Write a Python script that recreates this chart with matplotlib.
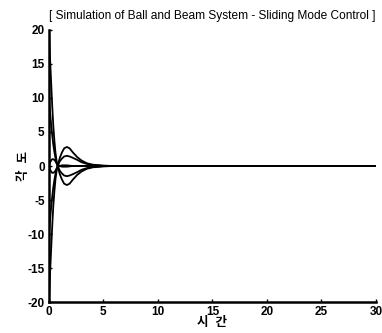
import matplotlib
matplotlib.use("Agg")
import matplotlib.pyplot as plt

plt.rcParams['font.family'] = ['Liberation Sans', 'Noto Sans CJK KR', 'DejaVu Sans']
plt.rcParams['axes.unicode_minus'] = False

title = "[ Simulation of Ball and Beam System - Sliding Mode Control ]"
xlabel = "시  간"
ylabel = "각  도"
xticks = [0, 5, 10, 15, 20, 25, 30]
yticks = [-20, -15, -10, -5, 0, 5, 10, 15, 20]

# time samples (shared by all curves)
t = [0.0, 0.1, 0.2, 0.3, 0.4, 0.5, 0.6, 0.7, 0.8, 1.0, 1.2, 1.4, 1.65,
     1.9, 2.2, 2.6, 3.0, 3.5, 4.0, 5.0, 6.0, 30.0]

# curve starting at +20, overshooting to about -2.8
y_p20 = [20.0, 16.0, 12.5, 9.0, 6.0, 3.8, 2.0, 0.8, 0.0, -1.2, -2.0, -2.6, -2.8,
         -2.6, -2.0, -1.3, -0.8, -0.4, -0.2, -0.05, 0.0, 0.0]
# curve starting at +10, overshooting to about -1.5
y_p10 = [10.0, 8.0, 6.2, 4.6, 3.2, 2.1, 1.2, 0.5, 0.0, -0.7, -1.1, -1.4, -1.5,
         -1.4, -1.2, -0.9, -0.55, -0.3, -0.15, -0.03, 0.0, 0.0]
# curve starting at -10
y_m10 = [-10.0, -8.0, -6.2, -4.6, -3.2, -2.1, -1.2, -0.5, 0.0, 0.7, 1.1, 1.4, 1.5,
         1.4, 1.2, 0.9, 0.55, 0.3, 0.15, 0.03, 0.0, 0.0]
# curve starting at -20
y_m20 = [-20.0, -16.0, -12.5, -9.0, -6.0, -3.8, -2.0, -0.8, 0.0, 1.2, 2.0, 2.6, 2.8,
         2.6, 2.0, 1.3, 0.8, 0.4, 0.2, 0.05, 0.0, 0.0]
# small curves forming the loop near zero
y_loop_up = [0.0, 0.5, 0.8, 1.0, 1.0, 0.9, 0.7, 0.4, 0.2, 0.0, -0.1, -0.1, -0.1,
             -0.05, 0.0, 0.0, 0.0, 0.0, 0.0, 0.0, 0.0, 0.0]
y_loop_dn = [0.0, -0.5, -0.8, -1.0, -1.0, -0.9, -0.7, -0.4, -0.2, 0.0, 0.1, 0.1, 0.1,
             0.05, 0.0, 0.0, 0.0, 0.0, 0.0, 0.0, 0.0, 0.0]

series = [y_p20, y_p10, y_m10, y_m20, y_loop_up, y_loop_dn]

fig = plt.figure(figsize=(3.82, 3.33), dpi=100)
ax = fig.add_axes([0.128, 0.093, 0.856, 0.817])
for ys in series:
    ax.plot(t, ys, color='black', lw=1.3)

ax.set_xlim(0, 30)
ax.set_ylim(-20, 20)
ax.set_xticks(xticks)
ax.set_yticks(yticks)
ax.tick_params(direction='in', length=2.5, width=1, labelsize=8.5, pad=3)
for lab in ax.get_xticklabels() + ax.get_yticklabels():
    lab.set_fontweight('bold')
ax.spines['top'].set_visible(False)
ax.spines['right'].set_visible(False)
ax.spines['left'].set_linewidth(1.8)
ax.spines['bottom'].set_linewidth(1.8)

ax.set_title(title, fontsize=8.6, pad=8)
ax.set_xlabel(xlabel, fontsize=9, fontweight='bold', labelpad=-1)
ax.set_ylabel(ylabel, fontsize=9, fontweight='bold', labelpad=-2)

fig.savefig("out.png", dpi=100)
